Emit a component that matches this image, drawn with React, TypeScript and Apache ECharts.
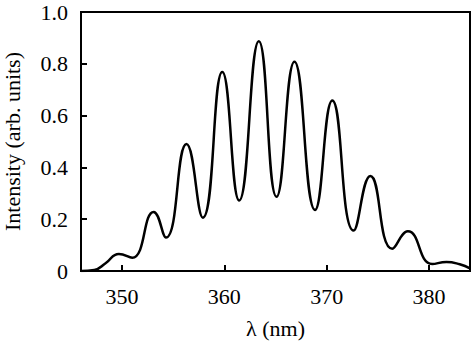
import React, { useEffect, useRef } from "react";
import * as echarts from "echarts";

const wavelength = [
  346.0, 347.3, 348.4, 349.7, 351.0, 353.1, 354.3, 356.3, 357.9, 359.8, 361.45, 363.37, 365.1,
  366.85, 368.86, 370.55, 372.63, 374.26, 376.41, 377.93, 380.3, 381.7, 383.0, 384.0,
];
const intensity = [
  0.0, 0.004, 0.03, 0.066, 0.051, 0.228, 0.129, 0.49, 0.206, 0.768, 0.272, 0.887, 0.287,
  0.808, 0.236, 0.658, 0.156, 0.367, 0.086, 0.153, 0.027, 0.035, 0.026, 0.01,
];
const xTicks = [350, 360, 370, 380];
const yTicks = [0, 0.2, 0.4, 0.6, 0.8, 1.0];

export default function App() {
  const ref = useRef<HTMLDivElement>(null);
  useEffect(() => {
    if (!ref.current) return;
    const chart = echarts.init(ref.current, null, { renderer: "svg" });
    const font = "Liberation Serif";
    chart.setOption({
      animation: false,
      backgroundColor: "#ffffff",
      grid: {
        left: 81,
        top: 12,
        right: 4,
        bottom: 72,
        show: true,
        borderColor: "#000",
        borderWidth: 2,
        outerBoundsMode: "none",
        containLabel: false,
      },
      xAxis: {
        type: "value",
        min: 346,
        max: 384,
        name: "λ (nm)",
        nameLocation: "middle",
        nameGap: 46,
        nameTextStyle: { color: "#000", fontFamily: font, fontSize: 22, lineHeight: 22 },
        axisLine: { show: true, lineStyle: { color: "#000", width: 2 } },
        axisTick: {
          show: true,
          inside: true,
          length: 6,
          customValues: xTicks,
          lineStyle: { color: "#000", width: 2 },
        },
        axisLabel: {
          customValues: xTicks,
          color: "#000",
          fontFamily: font,
          fontSize: 22,
          margin: 14,
        },
        splitLine: { show: false },
      },
      yAxis: {
        type: "value",
        min: 0,
        max: 1,
        name: "Intensity (arb. units)",
        nameLocation: "middle",
        nameGap: 58,
        nameTextStyle: { color: "#000", fontFamily: font, fontSize: 22, lineHeight: 22 },
        axisLine: { show: true, lineStyle: { color: "#000", width: 2 } },
        axisTick: {
          show: true,
          inside: true,
          length: 6,
          customValues: yTicks,
          lineStyle: { color: "#000", width: 2 },
        },
        axisLabel: {
          customValues: yTicks,
          color: "#000",
          fontFamily: font,
          fontSize: 22,
          margin: 13,
          formatter: (v: number) => (v === 0 ? "0" : v.toFixed(1)),
        },
        splitLine: { show: false },
      },
      series: [
        {
          type: "line",
          data: wavelength.map((x, i) => [x, intensity[i]]),
          smooth: 0.5,
          showSymbol: false,
          lineStyle: { color: "#000", width: 2.5 },
        },
      ],
    });
    return () => chart.dispose();
  }, []);
  return (
    <div
      ref={ref}
      style={{ position: "fixed", left: 0, top: 0, width: 474, height: 343 }}
    />
  );
}
